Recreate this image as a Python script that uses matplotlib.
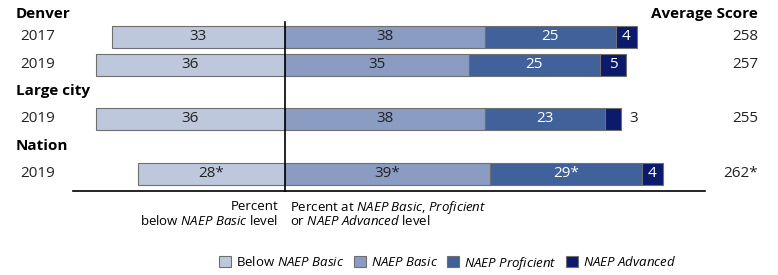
import matplotlib.pyplot as plt
import matplotlib
from matplotlib.patches import Patch

matplotlib.rcParams['font.family'] = ['Open Sans', 'DejaVu Sans']
matplotlib.rcParams['mathtext.fontset'] = 'custom'
matplotlib.rcParams['mathtext.it'] = 'Open Sans:italic'
matplotlib.rcParams['mathtext.rm'] = 'Open Sans'

# data
groups = ['Denver', 'Denver', 'Large city', 'Nation']
years = ['2017', '2019', '2019', '2019']
below_basic = [33, 36, 36, 28]
basic = [38, 35, 38, 39]
proficient = [25, 25, 23, 29]
advanced = [4, 5, 3, 4]
below_lbl = ['33', '36', '36', '28*']
basic_lbl = ['38', '35', '38', '39*']
prof_lbl = ['25', '25', '23', '29*']
adv_lbl = ['4', '5', '3', '4']
avg_score = ['258', '257', '255', '262*']

c_below = '#bdc8dc'
c_basic = '#8a9cc2'
c_prof = '#41619a'
c_adv = '#0b1a6b'
edge = '#6f6f6f'

W, H = 778, 275
zero_px = 285
px_per = 5.25

fig = plt.figure(figsize=(W / 100, H / 100), dpi=100)
ax = fig.add_axes([0, 0, 1, 1])
ax.set_xlim(-zero_px / px_per, (W - zero_px) / px_per)
ax.set_ylim(H, 0)
ax.axis('off')

row_y = [37, 64.5, 118.5, 173.5]
head_y = {'Denver': 14, 'Large city': 91, 'Nation': 146}
bh = 22
fs = 11

for i in range(len(years)):
    y = row_y[i]
    b, ba, p, a = below_basic[i], basic[i], proficient[i], advanced[i]
    ax.barh(y, b, left=-b, height=bh, color=c_below, edgecolor=edge, linewidth=0.8)
    ax.barh(y, ba, left=0, height=bh, color=c_basic, edgecolor=edge, linewidth=0.8)
    ax.barh(y, p, left=ba, height=bh, color=c_prof, edgecolor=edge, linewidth=0.8)
    ax.barh(y, a, left=ba + p, height=bh, color=c_adv, edgecolor=edge, linewidth=0.8)
    ax.text(-b / 2, y, below_lbl[i], ha='center', va='center', fontsize=fs, color='#222222')
    ax.text(ba / 2, y, basic_lbl[i], ha='center', va='center', fontsize=fs, color='#222222')
    ax.text(ba + p / 2, y, prof_lbl[i], ha='center', va='center', fontsize=fs, color='white')
    if a >= 4:
        ax.text(ba + p + a / 2, y, adv_lbl[i], ha='center', va='center', fontsize=fs, color='white')
    else:
        ax.text(ba + p + a + 1.5, y, adv_lbl[i], ha='left', va='center', fontsize=fs, color='#222222')
    fig.text(20 / W, 1 - y / H, years[i], ha='left', va='center', fontsize=fs, color='#222222')
    fig.text(758 / W, 1 - y / H, avg_score[i], ha='right', va='center', fontsize=fs, color='#222222')

for g, hy in head_y.items():
    fig.text(16 / W, 1 - hy / H, g, ha='left', va='center', fontsize=fs, fontweight='bold')
fig.text(758 / W, 1 - 14 / H, 'Average Score', ha='right', va='center', fontsize=fs, fontweight='bold')

# zero line and baseline
ax.plot([0, 0], [22, 191], color='black', lw=1.2)
ax.plot([(73 - zero_px) / px_per, (705 - zero_px) / px_per], [191, 191], color='black', lw=1.2)

fs2 = 9.5
fig.text(278 / W, 1 - 207 / H, 'Percent', ha='right', va='center', fontsize=fs2)
fig.text(278 / W, 1 - 221 / H, r'below $\it{NAEP}$ $\it{Basic}$ level', ha='right', va='center', fontsize=fs2)
fig.text(290 / W, 1 - 207 / H, r'Percent at $\it{NAEP}$ $\it{Basic}$, $\it{Proficient}$', ha='left', va='center', fontsize=fs2)
fig.text(290 / W, 1 - 221 / H, r'or $\it{NAEP}$ $\it{Advanced}$ level', ha='left', va='center', fontsize=fs2)

handles = [Patch(facecolor=c, edgecolor=edge, linewidth=0.8) for c in [c_below, c_basic, c_prof, c_adv]]
labels = [r'Below $\it{NAEP}$ $\it{Basic}$', r'$\it{NAEP}$ $\it{Basic}$',
          r'$\it{NAEP}$ $\it{Proficient}$', r'$\it{NAEP}$ $\it{Advanced}$']
fig.legend(handles, labels, loc='center', bbox_to_anchor=(448 / W, 1 - 263 / H), ncol=4, frameon=False,
           fontsize=fs2, handlelength=0.9, handleheight=0.9, handletextpad=0.4, columnspacing=0.7)

fig.savefig('out.png', dpi=100)
